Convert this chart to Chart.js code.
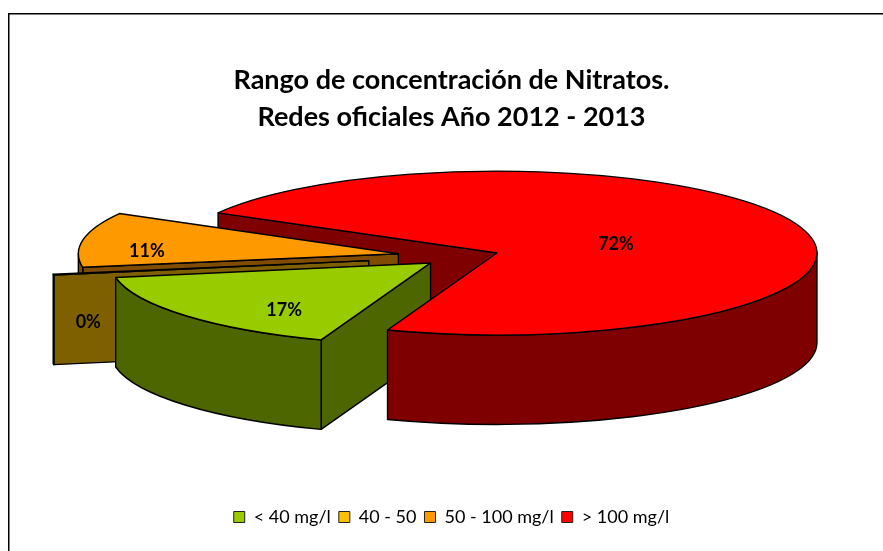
<!DOCTYPE html>
<html>
<head>
<meta charset="utf-8">
<style>html,body{margin:0;padding:0;background:#fff}canvas{display:block}</style>
<script src="https://cdn.jsdelivr.net/npm/chart.js@4"></script>
</head>
<body>
<canvas id="c" width="883" height="551"></canvas>
<script>
const titleLines = ['Rango de concentración de Nitratos.', 'Redes oficiales Año 2012 - 2013'];
const categories = ['< 40 mg/l', '40 - 50', '50 - 100 mg/l', '> 100 mg/l'];
const shares = [16.6, 0.2, 10.8, 72.4];
const faceColors = ['#99CC00', '#FFC000', '#FF9900', '#FF0000'];
const wallColors = ['#4D6600', '#7F6000', '#7F4C00', '#7F0000'];

// 3D look: tilt of the pie, wall depth, explosion of each slice, label nudges
const tilt = 0.256, depth = 89.5, pieRadius = 320, pieCentre = [460.4, 256.5];
const explode = [39, 93, 63, 39];
const labelNudge = [[-146.5, 47], [-280.5, 62], [-251.5, -3], [119, -9]];

const pie3d = {
  id: 'pie3d',
  beforeDraw(chart) {
    const {ctx} = chart;
    ctx.save();
    ctx.fillStyle = '#fff';
    ctx.fillRect(0, 0, chart.width, chart.height);
    ctx.strokeStyle = '#000';
    ctx.lineWidth = 1.5;
    ctx.beginPath();
    ctx.moveTo(8.75, chart.height);
    ctx.lineTo(8.75, 13.75);
    ctx.lineTo(chart.width, 13.75);
    ctx.stroke();
    ctx.restore();
  },
  beforeDatasetDraw(chart, args) {
    const {ctx} = chart;
    const arcs = args.meta.data;
    const geo = arcs.map((a, i) => {
      const mid = (a.startAngle + a.endAngle) / 2;
      return {
        a, i,
        x: pieCentre[0] + Math.cos(mid) * explode[i],
        y: pieCentre[1] + Math.sin(mid) * explode[i] * tilt,
        r: a.outerRadius
      };
    });
    const styled = (fill, build) => {
      ctx.beginPath();
      build();
      ctx.closePath();
      if (fill) { ctx.fillStyle = fill; ctx.fill(); }
      ctx.lineWidth = 1.4;
      ctx.lineJoin = 'round';
      ctx.strokeStyle = '#000';
      ctx.stroke();
    };
    const cutWall = g => {
      const s = g.a.startAngle;
      if (Math.cos(s) >= 0) return;
      const ex = g.x + Math.cos(s) * g.r, ey = g.y + Math.sin(s) * g.r * tilt;
      styled(wallColors[g.i], () => {
        ctx.moveTo(g.x, g.y);
        ctx.lineTo(ex, ey);
        ctx.lineTo(ex, ey + depth);
        ctx.lineTo(g.x, g.y + depth);
      });
    };
    const outerWall = g => {
      const {startAngle: s, endAngle: e} = g.a;
      for (let m = -1; m < 3; m++) {
        const lo = Math.max(s, 2 * Math.PI * m), hi = Math.min(e, 2 * Math.PI * m + Math.PI);
        if (hi <= lo) continue;
        styled(wallColors[g.i], () => {
          ctx.ellipse(g.x, g.y, g.r, g.r * tilt, 0, lo, hi);
          ctx.ellipse(g.x, g.y + depth, g.r, g.r * tilt, 0, hi, lo, true);
        });
      }
    };
    const top = g => {
      ctx.save();
      ctx.translate(g.x, g.y);
      ctx.scale(1, tilt);
      ctx.translate(-g.a.x, -g.a.y);
      g.a.draw(ctx);
      ctx.restore();
      styled(null, () => {
        ctx.moveTo(g.x, g.y);
        ctx.ellipse(g.x, g.y, g.r, g.r * tilt, 0, g.a.startAngle, g.a.endAngle);
      });
    };
    const whole = g => { cutWall(g); outerWall(g); top(g); };
    cutWall(geo[3]);
    whole(geo[2]);
    whole(geo[1]);
    whole(geo[0]);
    outerWall(geo[3]);
    top(geo[3]);
    // percentage labels
    ctx.save();
    ctx.fillStyle = '#000';
    ctx.font = 'bold 18px Lato';
    ctx.textAlign = 'center';
    ctx.textBaseline = 'middle';
    geo.forEach(g => {
      ctx.fillText(Math.round(shares[g.i]) + '%', g.x + labelNudge[g.i][0], g.y + labelNudge[g.i][1]);
    });
    ctx.restore();
    return false;
  }
};

new Chart(document.getElementById('c'), {
  type: 'pie',
  data: {
    labels: categories,
    datasets: [{
      data: shares,
      backgroundColor: faceColors,
      borderWidth: 0,
      radius: pieRadius,
      clip: false
    }]
  },
  plugins: [pie3d],
  options: {
    responsive: false,
    animation: false,
    rotation: 200,
    layout: {padding: {left: 20, top: 62, bottom: 15}},
    plugins: {
      tooltip: {enabled: false},
      title: {
        display: true,
        text: titleLines,
        color: '#000',
        font: {family: 'Lato', weight: 'bold', size: 27, lineHeight: 1.37},
        padding: 0
      },
      legend: {
        position: 'bottom',
        labels: {
          color: '#000',
          font: {family: 'Lato', size: 18},
          boxWidth: 11,
          boxHeight: 11,
          padding: 8,
          generateLabels: c => categories.map((t, i) => ({
            text: t, fillStyle: faceColors[i], strokeStyle: '#222', lineWidth: 1, index: i
          }))
        }
      }
    }
  }
});
</script>
</body>
</html>
